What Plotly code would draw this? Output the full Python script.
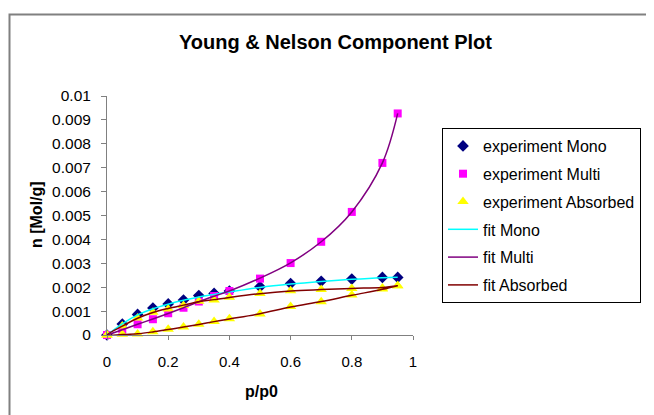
import plotly.graph_objects as go

# ---- data ----
p = [0, 0.05, 0.1, 0.15, 0.2, 0.25, 0.3, 0.35, 0.4, 0.5, 0.6, 0.7, 0.8, 0.9, 0.95]

exp_mono = [0, 0.00046, 0.00086, 0.00113, 0.00130, 0.00146, 0.00165, 0.00174, 0.00184,
            0.00202, 0.00215, 0.00225, 0.00234, 0.00241, 0.00241]
exp_multi = [0, 0.00022, 0.00045, 0.00066, 0.00091, 0.00114, 0.00140, 0.00163, 0.00184,
             0.00236, 0.00301, 0.00390, 0.00515, 0.00720, 0.00927]
exp_abs_low = [0, 0.00003, 0.00004, 0.00014, 0.00024, 0.00033, 0.00045, 0.00057, 0.00068,
               0.00088, 0.00119, 0.00139, 0.00167, 0.00192, 0.00206]
exp_abs_high = [0, 0.00038, 0.00071, 0.00095, 0.00109, 0.00123, 0.00141, 0.00146, 0.00158,
                0.00174, 0.00185, 0.00190, 0.00195, 0.00197, 0.00206]

fit_mono = [0, 0.00047, 0.00084, 0.00110, 0.00129, 0.00145, 0.00159, 0.00170, 0.00180,
            0.00199, 0.00213, 0.00224, 0.00233, 0.00240, 0.00242]
fit_multi = [0, 0.00022, 0.00045, 0.00067, 0.00090, 0.00114, 0.00139, 0.00162, 0.00184,
             0.00238, 0.00302, 0.00390, 0.00515, 0.00720, 0.00927]
fit_abs_low = [0, 0.00002, 0.00005, 0.00013, 0.00023, 0.00033, 0.00044, 0.00056, 0.00067,
               0.00089, 0.00117, 0.00140, 0.00166, 0.00191, 0.00206]
fit_abs_high = [0, 0.00037, 0.00070, 0.00094, 0.00111, 0.00125, 0.00139, 0.00148, 0.00157,
                0.00173, 0.00184, 0.00190, 0.00195, 0.00199, 0.00206]

x_ticks = [0, 0.2, 0.4, 0.6, 0.8, 1]
x_tick_text = ["0", "0.2", "0.4", "0.6", "0.8", "1"]
y_ticks = [0, 0.001, 0.002, 0.003, 0.004, 0.005, 0.006, 0.007, 0.008, 0.009, 0.01]
y_tick_text = ["0", "0.001", "0.002", "0.003", "0.004", "0.005", "0.006", "0.007",
               "0.008", "0.009", "0.01"]

FONT = "Liberation Sans, Arial, sans-serif"

# absorbed branch: lower branch out, upper branch back
abs_x = p + p[::-1]
abs_exp_y = exp_abs_low + exp_abs_high[::-1]
abs_fit_y = fit_abs_low + fit_abs_high[::-1]

fig = go.Figure()

fig.add_trace(go.Scatter(x=p, y=exp_mono, mode="markers", name="experiment Mono",
                         legendgroup="a",
                         marker=dict(symbol="diamond", size=9, color="#000080"),
                         cliponaxis=False))
fig.add_trace(go.Scatter(x=p, y=exp_multi, mode="markers", name="experiment Multi",
                         legendgroup="b",
                         marker=dict(symbol="square", size=8, color="#FF00FF"),
                         cliponaxis=False))
fig.add_trace(go.Scatter(x=abs_x, y=abs_exp_y, mode="markers", name="experiment Absorbed",
                         legendgroup="c",
                         marker=dict(symbol="triangle-up", size=10, color="#FFFF00"),
                         cliponaxis=False))
fig.add_trace(go.Scatter(x=p, y=fit_mono, mode="lines", name="fit Mono",
                         legendgroup="d",
                         line=dict(color="#00FFFF", width=1.5, shape="spline"),
                         cliponaxis=False))
fig.add_trace(go.Scatter(x=p, y=fit_multi, mode="lines", name="fit Multi",
                         legendgroup="e",
                         line=dict(color="#800080", width=1.5, shape="spline"),
                         cliponaxis=False))
fig.add_trace(go.Scatter(x=abs_x, y=abs_fit_y, mode="lines", name="fit Absorbed",
                         legendgroup="f",
                         line=dict(color="#800000", width=1.5, shape="spline"),
                         cliponaxis=False))

# page body adds an 8px offset; positions below are target screen pixels
OFF = 8
W, H = 654, 415
PX0, PX1, PY0, PY1 = 107, 413, 96, 335   # plot area on screen
L, T = PX0 - OFF, PY0 - OFF
pw, ph = PX1 - PX0, PY1 - PY0
R, B = W - L - pw, H - T - ph

def sx(px):
    return (px - PX0) / pw

def sy(py):
    return (PY1 - py) / ph

fig.update_layout(
    width=W, height=H,
    margin=dict(l=L, r=R, t=T, b=B),
    paper_bgcolor="white", plot_bgcolor="white",
    font=dict(family=FONT, size=15, color="black"),
    showlegend=True,
    legend=dict(
        x=sx(442), y=sy(128), xanchor="left", yanchor="top",
        bgcolor="white", bordercolor="#000000", borderwidth=1,
        font=dict(family=FONT, size=16, color="black"),
        tracegroupgap=4, traceorder="grouped",
        entrywidth=180, entrywidthmode="pixels",
    ),
    xaxis=dict(
        range=[0, 1], tickvals=x_ticks, ticktext=x_tick_text,
        showgrid=False, zeroline=False, showline=True, linecolor="#808080", linewidth=1,
        ticks="outside", ticklen=4, tickcolor="#808080", tickwidth=1,
        ticklabelstandoff=9,
        tickfont=dict(family=FONT, size=15, color="black"),
    ),
    yaxis=dict(
        range=[0, 0.01], tickvals=y_ticks, ticktext=y_tick_text,
        showgrid=False, zeroline=False, showline=True, linecolor="#808080", linewidth=1,
        ticks="outside", ticklen=5, tickcolor="#808080", tickwidth=1,
        ticklabelstandoff=7,
        tickfont=dict(family=FONT, size=15.5, color="black"),
    ),
    annotations=[
        dict(text="<b>Young & Nelson Component Plot</b>", xref="paper", yref="paper",
             x=sx(335), y=sy(42), xanchor="center", yanchor="middle",
             showarrow=False, font=dict(family=FONT, size=20, color="black")),
        dict(text="<b>n [Mol/g]</b>", xref="paper", yref="paper",
             x=sx(36), y=sy(215), xanchor="center", yanchor="middle",
             textangle=-90, showarrow=False, font=dict(family=FONT, size=16, color="black")),
        dict(text="<b>p/p0</b>", xref="paper", yref="paper",
             x=sx(261), y=sy(391), xanchor="center", yanchor="middle",
             showarrow=False, font=dict(family=FONT, size=16, color="black")),
    ],
    shapes=[
        dict(type="rect", xref="paper", yref="paper",
             x0=sx(9.5), x1=sx(690), y0=sy(450), y1=sy(14.5),
             line=dict(color="#808080", width=2), fillcolor="rgba(0,0,0,0)", layer="below"),
    ],
)

fig.write_html("out.html")
